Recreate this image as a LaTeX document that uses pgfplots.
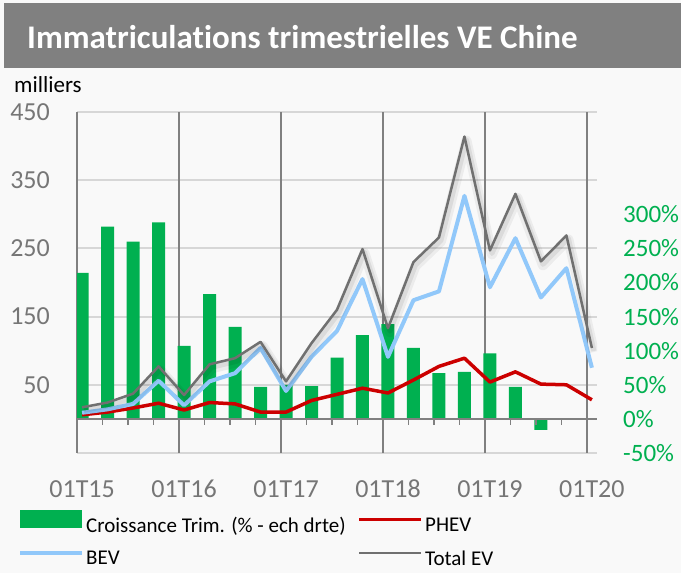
\documentclass[border=0pt]{standalone}
\usepackage{pgfplots}
\usepackage{pgfplotstable}
\pgfplotsset{compat=1.18}
\usepackage{fontspec}
\setmainfont{Carlito}[Ligatures=NoCommon]
\definecolor{bg}{RGB}{249,249,249}
\definecolor{band}{RGB}{128,128,128}
\definecolor{cgreen}{RGB}{0,176,80}
\definecolor{cred}{RGB}{204,0,0}
\definecolor{cblue}{RGB}{145,200,250}
\definecolor{cgray}{RGB}{112,112,112}
\definecolor{tickgray}{RGB}{118,118,118}
\definecolor{vgrid}{RGB}{128,128,128}
\definecolor{hgrid}{RGB}{215,215,215}

\pgfplotstableread{
i total bev phev
0 17 9 6
1 24 14 10
2 37 22 16
3 77 56 23
4 35 20 13
5 80 55 24
6 89 67 22
7 113 104 10
8 55 41 10
9 111 91 27
10 160 129 36
11 249 205 45
12 133 91 38
13 230 174 57
14 266 187 77
15 414 327 89
16 247 193 54
17 330 265 69
18 231 178 51
19 269 221 50
20 104 75 28
}\lines

\pgfplotstableread{
i g
0 214
1 282
2 260
3 288
4 107
5 183
6 135
7 47
8 50
9 48
10 90
11 123
12 139
13 104
14 67
15 69
16 96
17 47
18 -16
}\bars

\pgfplotsset{
  legbar/.style={legend image code/.code={\fill[cgreen] (0pt,-3pt) rectangle (62pt,15pt);}},
  legred/.style={legend image code/.code={\draw[cred, line width=3.5pt] (0pt,6pt) -- (62pt,6pt);}},
  legblue/.style={legend image code/.code={\draw[cblue, line width=4pt] (0pt,6pt) -- (62pt,6pt);}},
  leggray/.style={legend image code/.code={\draw[cgray, line width=2.5pt] (0pt,6pt) -- (62pt,6pt);}},
}

\begin{document}
\begin{tikzpicture}[x=1pt,y=1pt]
\fill[bg] (0,0) rectangle (681,573);
\fill[band] (4,505) rectangle (681,570);
\node[anchor=west, text=white, inner sep=0pt, font=\fontsize{33}{38}\selectfont\bfseries] at (27,536) {Immatriculations trimestrielles VE Chine};
\node[anchor=west, inner sep=0pt, font=\fontsize{23}{28}\selectfont] at (14,488) {milliers};

% Axis A: horizontal grid, left labels, x labels
\begin{axis}[
  at={(77pt,120pt)}, anchor=south west,
  scale only axis, width=520pt, height=341pt,
  xmin=-0.2, xmax=20.2, ymin=-50, ymax=450,
  axis line style={draw=none},
  xtick={0,4,8,12,16,20},
  xticklabels={01T15,01T16,01T17,01T18,01T19,01T20},
  ytick={-50,50,150,250,350,450},
  yticklabels={,50,150,250,350,450},
  major tick length=0pt,
  ymajorgrids,
  y grid style={hgrid, line width=2pt},
  ticklabel style={font=\fontsize{26}{30}\selectfont, text=tickgray, inner sep=0pt},
  yticklabel style={anchor=east, xshift=-27pt},
  xticklabel style={anchor=north, yshift=-27pt},
]
\end{axis}

% Axis B: vertical grid, plots, legend
\begin{axis}[
  at={(77pt,120pt)}, anchor=south west,
  scale only axis, width=520pt, height=341pt,
  xmin=-0.2, xmax=20.2, ymin=-50, ymax=450,
  axis line style={draw=none},
  xtick={-0.2,3.8,7.8,11.8,15.8,19.8},
  xticklabels={},
  ytick=\empty,
  major tick length=0pt,
  xmajorgrids,
  x grid style={vgrid, line width=2pt},
  legend columns=2,
  legend cell align=left,
  legend style={at={(axis description cs:-0.1135,-0.168)}, anchor=north west,
    draw=none, fill=none, inner sep=0pt, row sep=13pt,
    font=\fontsize{21}{25}\selectfont,
    nodes={inner sep=2pt},
    /tikz/every even column/.append style={column sep=10pt}},
]
\addplot[ybar, bar width=13pt, fill=cgreen, draw=none, legbar]
  table[x=i,y=g]{\bars};
\addlegendentry{Croissance Trim. (\% - ech drte)}
\addplot[cred, line width=3.5pt, line join=round, legred]
  table[x=i,y=phev]{\lines};
\addlegendentry{PHEV}
\addplot[cblue, line width=4pt, line join=round, legblue]
  table[x=i,y=bev]{\lines};
\addlegendentry{BEV}
\addplot[forget plot, black, opacity=0.05, line width=10pt, line join=round, xshift=2pt, yshift=-4pt]
  table[x=i,y=total]{\lines};
\addplot[forget plot, black, opacity=0.07, line width=5pt, line join=round, xshift=2pt, yshift=-3pt]
  table[x=i,y=total]{\lines};
\addplot[cgray, line width=2.5pt, line join=round, leggray]
  table[x=i,y=total]{\lines};
\addlegendentry{Total EV}
\end{axis}

% Axis C: zero line with quarter ticks, right labels
\begin{axis}[
  at={(77pt,120pt)}, anchor=south west,
  scale only axis, width=520pt, height=341pt,
  xmin=-0.2, xmax=20.2, ymin=-50, ymax=450,
  axis x line*=middle, axis y line*=right,
  y axis line style={draw=none},
  x axis line style={vgrid, line width=2pt, -},
  xtick={-0.2,0.8,...,19.8},
  xticklabels={},
  xtick style={vgrid, line width=1.5pt},
  tick align=outside,
  major tick length=6pt,
  ytick={-50,0,50,100,150,200,250,300},
  yticklabels={-50\%,0\%,50\%,100\%,150\%,200\%,250\%,300\%},
  ytick style={draw=none},
  yticklabel style={font=\fontsize{25}{30}\selectfont, text=cgreen, inner sep=0pt, anchor=west, xshift=20pt},
]
\end{axis}
\pgfresetboundingbox
\path (0,0) rectangle (681,573);
\end{tikzpicture}
\end{document}
